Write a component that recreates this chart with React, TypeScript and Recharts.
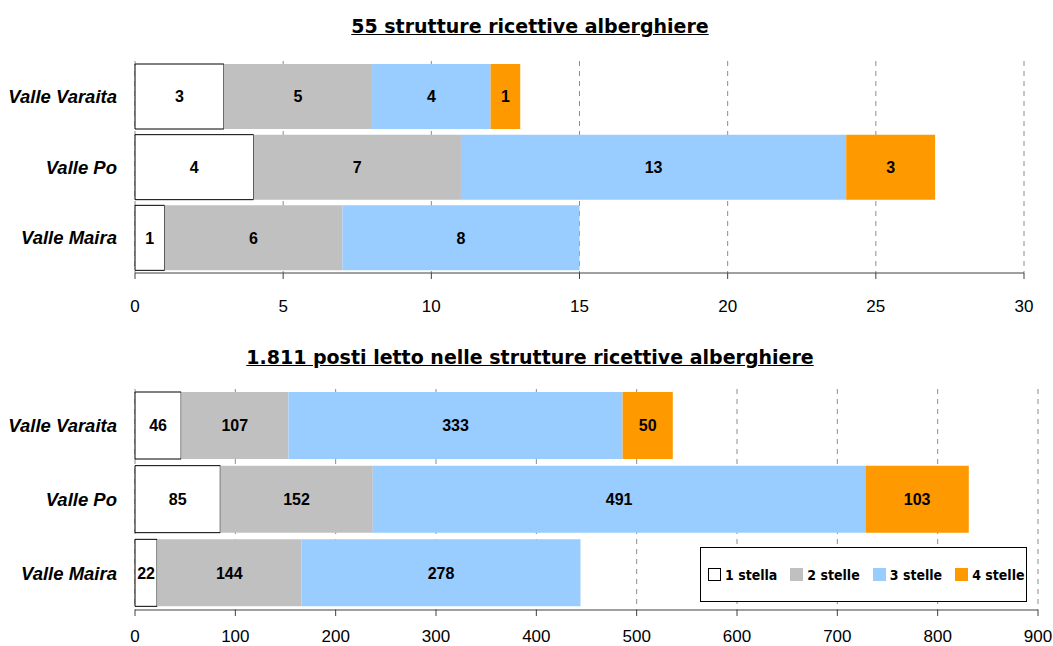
import React from 'react';
import { BarChart, Bar, XAxis, YAxis, CartesianGrid, LabelList } from 'recharts';

// Valli e numero di strutture / posti letto per categoria di stelle
const valli = ['Valle Varaita', 'Valle Po', 'Valle Maira'];

const strutture1Stella = [3, 4, 1];
const strutture2Stelle = [5, 7, 6];
const strutture3Stelle = [4, 13, 8];
const strutture4Stelle = [1, 3, 0];

const posti1Stella = [46, 85, 22];
const posti2Stelle = [107, 152, 144];
const posti3Stelle = [333, 491, 278];
const posti4Stelle = [50, 103, 0];

const tickStrutture = [0, 5, 10, 15, 20, 25, 30];
const tickPosti = [0, 100, 200, 300, 400, 500, 600, 700, 800, 900];

const SERIE = [
  { key: 's1', name: '1 stella', fill: '#FFFFFF', stroke: '#000000' },
  { key: 's2', name: '2 stelle', fill: '#C0C0C0' },
  { key: 's3', name: '3 stelle', fill: '#99CCFF' },
  { key: 's4', name: '4 stelle', fill: '#FF9900' },
];

const AXIS = '#404040';

const buildRows = (a: number[], b: number[], c: number[], d: number[]) =>
  valli.map((v, i) => ({ valle: v, s1: a[i], s2: b[i], s3: c[i], s4: d[i] }));

const righeStrutture = buildRows(strutture1Stella, strutture2Stelle, strutture3Stelle, strutture4Stelle);
const righePosti = buildRows(posti1Stella, posti2Stelle, posti3Stelle, posti4Stelle);

const titleStyle: React.CSSProperties = {
  position: 'absolute',
  left: 0,
  width: 1060,
  textAlign: 'center',
  fontFamily: 'DejaVu Sans',
  fontWeight: 'bold',
  fontSize: 19,
  lineHeight: '22px',
  textDecoration: 'underline',
  color: '#000',
  whiteSpace: 'nowrap',
};

const Legenda = () => (
  <div
    style={{
      position: 'absolute',
      left: 700,
      top: 207,
      width: 327,
      height: 55,
      border: '1px solid #000',
      background: '#fff',
      display: 'flex',
      alignItems: 'center',
      paddingLeft: 7,
      boxSizing: 'border-box',
      fontFamily: 'DejaVu Sans Condensed',
      fontWeight: 'bold',
      fontSize: 14,
      whiteSpace: 'nowrap',
    }}
  >
    {SERIE.map((s) => (
      <div key={s.key} style={{ display: 'flex', alignItems: 'center', marginRight: 13 }}>
        <span
          style={{
            display: 'inline-block',
            width: 11,
            height: 11,
            background: s.fill,
            border: s.stroke ? '1px solid #000' : `1px solid ${s.fill}`,
            marginRight: 4,
          }}
        />
        {s.name}
      </div>
    ))}
  </div>
);

interface StackProps {
  data: any[];
  ticks: number[];
  height: number;
  marginTop: number;
  marginRight: number;
  marginBottom: number;
  barSize: number;
  xHeight: number;
  tickMargin: number;
}

const StackChart = ({ data, ticks, height, marginTop, marginRight, marginBottom, barSize, xHeight, tickMargin }: StackProps) => (
  <BarChart
    width={1053}
    height={height}
    data={data}
    layout="vertical"
    margin={{ top: marginTop, right: marginRight, left: 0, bottom: marginBottom }}
    barSize={barSize}
  >
    <CartesianGrid horizontal={false} stroke="#8c8c8c" strokeDasharray="5 5" />
    <XAxis
      type="number"
      domain={[ticks[0], ticks[ticks.length - 1]]}
      ticks={ticks}
      interval={0}
      height={xHeight}
      stroke={AXIS}
      tickSize={6}
      tickMargin={tickMargin}
      tick={{ fill: '#000', fontSize: 17, fontFamily: 'Liberation Sans' }}
    />
    {/* tacche di separazione tra le valli */}
    <YAxis
      yAxisId="bordi"
      type="number"
      domain={[0, 3]}
      ticks={[0, 1, 2, 3]}
      width={0}
      tick={false}
      tickSize={5}
      stroke={AXIS}
    />
    <YAxis
      type="category"
      dataKey="valle"
      width={135}
      axisLine={false}
      tickLine={false}
      tickMargin={12}
      tick={{ fill: '#000', fontSize: 18.5, fontFamily: 'Liberation Sans', fontWeight: 'bold', fontStyle: 'italic' }}
    />
    {SERIE.map((s) => (
      <Bar
        key={s.key}
        dataKey={s.key}
        name={s.name}
        stackId="a"
        fill={s.fill}
        stroke={s.stroke}
        strokeWidth={s.stroke ? 1 : 0}
        isAnimationActive={false}
      >
        <LabelList
          dataKey={s.key}
          position="center"
          formatter={(v: any) => (v ? v : '')}
          fill="#000"
          fontSize={16}
          fontWeight="bold"
          fontFamily="Liberation Sans"
        />
      </Bar>
    ))}
  </BarChart>
);

export default function App() {
  return (
    <div style={{ position: 'absolute', left: 0, top: 0, width: 1053, height: 646, background: '#fff' }}>
      <div style={{ ...titleStyle, top: 15 }}>55 strutture ricettive alberghiere</div>
      <div style={{ position: 'absolute', left: 0, top: 40 }}>
        <StackChart
          data={righeStrutture}
          ticks={tickStrutture}
          height={292}
          marginTop={21}
          marginRight={29}
          marginBottom={22}
          barSize={65}
          xHeight={37}
          tickMargin={21}
        />
      </div>
      <div style={{ ...titleStyle, top: 346 }}>1.811 posti letto nelle strutture ricettive alberghiere</div>
      <div style={{ position: 'absolute', left: 0, top: 340 }}>
        <StackChart
          data={righePosti}
          ticks={tickPosti}
          height={306}
          marginTop={49}
          marginRight={15}
          marginBottom={0}
          barSize={67}
          xHeight={36}
          tickMargin={14}
        />
        <Legenda />
      </div>
    </div>
  );
}
